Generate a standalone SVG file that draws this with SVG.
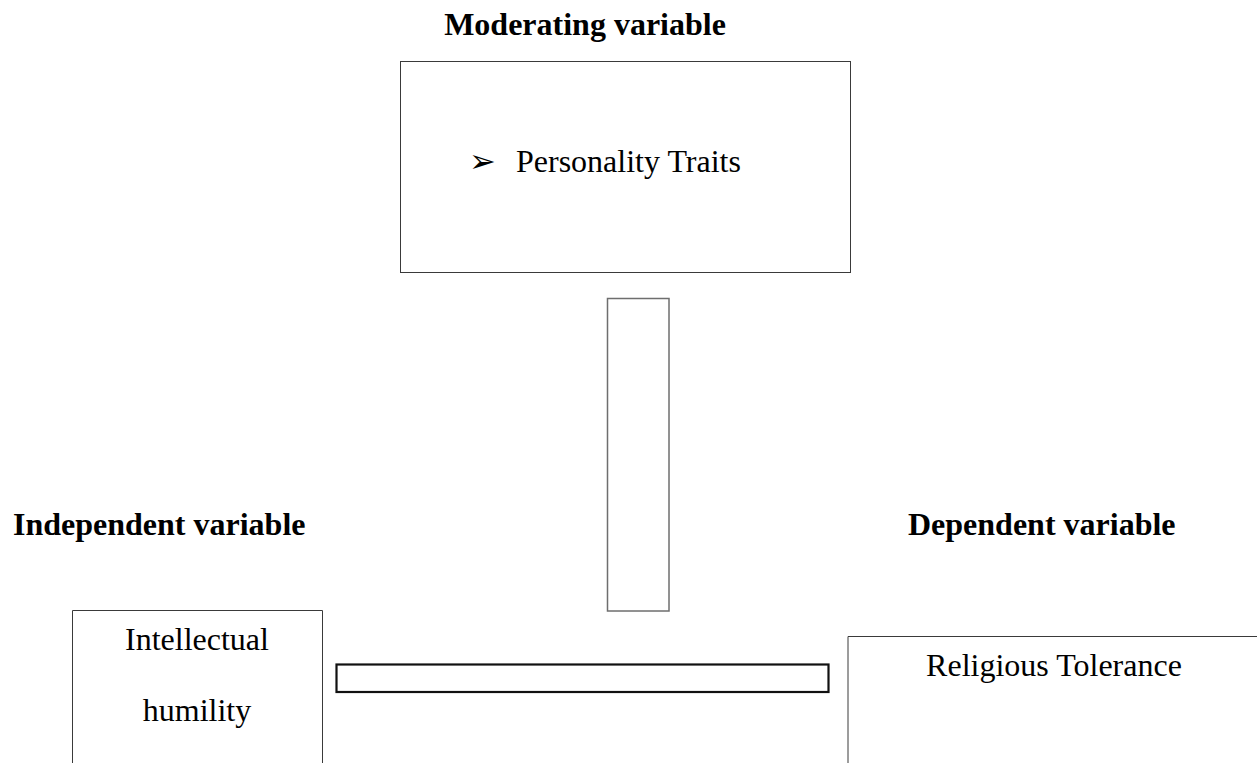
<svg xmlns="http://www.w3.org/2000/svg" width="1257" height="763" viewBox="0 0 1257 763">
<style>
.t{font-family:"Liberation Serif","Times New Roman",serif;font-size:32px;fill:#000}
.b{font-weight:bold}
.box{fill:#fff;stroke:#3a3a3a;stroke-width:1}
.conn{fill:#fff;stroke:#6e6e6e;stroke-width:1.5}
.conn2{fill:#fff;stroke:#111;stroke-width:2.2}
</style>
<rect width="1257" height="763" fill="#fff"/>
<g id="label-moderating"><text class="t b" x="585" y="35" text-anchor="middle">Moderating variable</text></g>
<g id="label-independent"><text class="t b" x="13" y="535">Independent variable</text></g>
<g id="label-dependent"><text class="t b" x="908" y="535">Dependent variable</text></g>
<g id="node-personality">
<rect class="box" x="400.5" y="61.5" width="450" height="211"/>
<text class="t" x="469" y="172">➢</text>
<text class="t" x="516" y="172">Personality Traits</text>
</g>
<g id="node-intellectual">
<path class="box" d="M72.5 763 V610.5 H322.5 V763"/>
<text class="t" x="197" y="650" text-anchor="middle">Intellectual</text>
<text class="t" x="197" y="721" text-anchor="middle">humility</text>
</g>
<g id="node-religious">
<path class="box" d="M848 763 V636.5 H1257" stroke="#6e6e6e" stroke-width="1.5"/>
<text class="t" x="1054" y="676" text-anchor="middle">Religious Tolerance</text>
</g>
<g id="connectors">
<rect class="conn" x="607.5" y="298.5" width="61.5" height="312.5"/>
<rect class="conn2" x="336.5" y="664.5" width="492" height="27.5"/>
</g>
</svg>
